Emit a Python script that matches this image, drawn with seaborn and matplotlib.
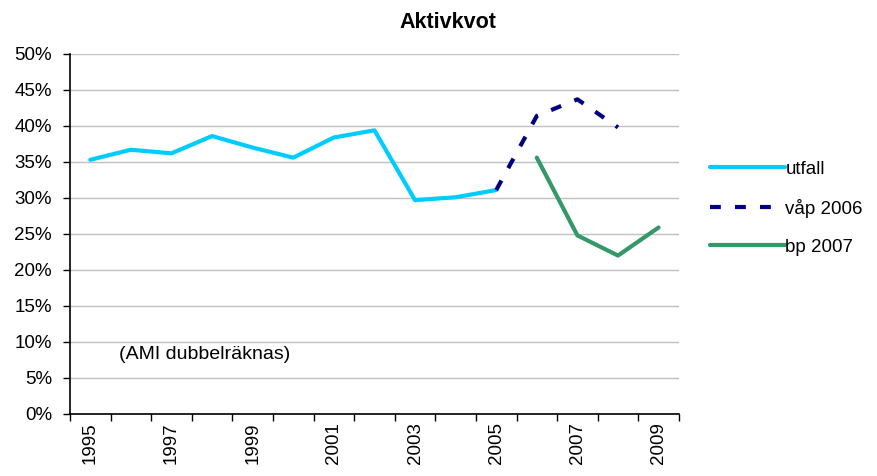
import pandas as pd
import numpy as np
import matplotlib
matplotlib.use("Agg")
import matplotlib.pyplot as plt
import seaborn as sns
from matplotlib.ticker import FuncFormatter, FixedLocator

# Données (en %)
ar_utfall = [1995, 1996, 1997, 1998, 1999, 2000, 2001, 2002, 2003, 2004, 2005]
utfall = [35.3, 36.7, 36.2, 38.6, 37.0, 35.6, 38.4, 39.4, 29.7, 30.1, 31.1]

ar_vap = [2005, 2006, 2007, 2008]
vap_2006 = [31.1, 41.4, 43.7, 39.8]

ar_bp = [2006, 2007, 2008, 2009]
bp_2007 = [35.6, 24.8, 22.0, 25.9]

serier = ["utfall", "våp 2006", "bp 2007"]
farger = {"utfall": "#00CCFF", "våp 2006": "#000080", "bp 2007": "#339966"}
ar_etiketter = [1995, 1997, 1999, 2001, 2003, 2005, 2007, 2009]

df = pd.concat([
    pd.DataFrame({"år": ar_utfall, "värde": utfall, "serie": "utfall"}),
    pd.DataFrame({"år": ar_vap, "värde": vap_2006, "serie": "våp 2006"}),
    pd.DataFrame({"år": ar_bp, "värde": bp_2007, "serie": "bp 2007"}),
], ignore_index=True)

sns.set_theme(style="white")
plt.rcParams["font.family"] = ["Liberation Sans", "DejaVu Sans"]
plt.rcParams["text.color"] = "black"
plt.rcParams["xtick.color"] = "black"
plt.rcParams["ytick.color"] = "black"
plt.rcParams["xtick.labelcolor"] = "black"
plt.rcParams["ytick.labelcolor"] = "black"
fs = 13.5

fig = plt.figure(figsize=(8.77, 4.76), dpi=100)
ax = fig.add_axes([0.0798, 0.1303, 0.6943, 0.7563])

sns.lineplot(data=df, x="år", y="värde", hue="serie", style="serie",
             hue_order=serier, style_order=serier, palette=farger,
             dashes={"utfall": "", "våp 2006": (2.6, 3.4), "bp 2007": ""},
             linewidth=3, ax=ax, sort=False)

ax.set_xlim(1994.5, 2009.5)
ax.set_ylim(0, 50)

# grille horizontale
ax.set_yticks(np.arange(0, 51, 5))
ax.yaxis.set_major_formatter(FuncFormatter(lambda v, p: f"{v:.0f}%"))
ax.grid(axis="y", color="#C0C0C0", linewidth=1)
ax.grid(axis="x", visible=False)
ax.set_axisbelow(True)

# axe x: étiquettes années impaires, graduations entre catégories
ax.set_xticks(ar_etiketter)
ax.set_xticklabels([str(a) for a in ar_etiketter], rotation=90)
ax.xaxis.set_minor_locator(FixedLocator(np.arange(1994.5, 2010, 1)))
ax.tick_params(axis="x", which="major", length=0, pad=6, labelsize=fs, labelcolor="black")
ax.tick_params(axis="x", which="minor", length=5, width=1, color="black", direction="out", bottom=True)
ax.tick_params(axis="y", which="major", length=5, width=1, color="black", direction="out", left=True,
               labelsize=fs, pad=8, labelcolor="black")

for s in ["top", "right"]:
    ax.spines[s].set_visible(False)
for s in ["left", "bottom"]:
    ax.spines[s].set_color("black")
    ax.spines[s].set_linewidth(1.2)

ax.set_xlabel("")
ax.set_ylabel("")

ax.text(1995.7, 8.2, "(AMI dubbelräknas)", fontsize=14, va="center", ha="left", color="black")

fig.text(448 / 877, 1 - 22 / 476, "Aktivkvot", fontsize=15.5, fontweight="bold", ha="center", va="center",
         color="black")

leg = ax.legend(loc="center left", bbox_to_anchor=(1.038, 0.572), frameon=False,
                fontsize=fs, handlelength=4.0, handletextpad=0.05, labelspacing=1.12,
                borderaxespad=0)
for line in leg.get_lines():
    line.set_linewidth(3)
for t in leg.get_texts():
    t.set_color("black")

fig.savefig("out.png", dpi=100)
